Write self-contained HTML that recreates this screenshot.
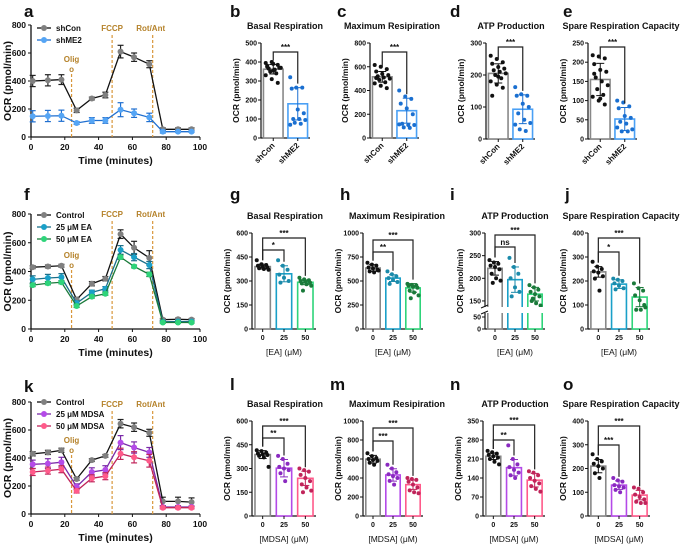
<!DOCTYPE html>
<html><head><meta charset="utf-8"><style>
body{margin:0;background:#fff;}
svg{display:block;font-family:"Liberation Sans",sans-serif;}
</style></head><body>
<svg id="fig" width="681" height="545" viewBox="0 0 681 545"></svg>
<script>
// ---------- line chart data ----------
const times=[1,10,18,27,36,44,53,61,70,78,87,95];
const aShCon=[400,405,410,190,275,300,610,570,520,55,55,55];
const aShConErr=[40,40,35,15,10,20,45,30,25,10,10,10];
const aShME2=[148,150,152,100,118,118,195,170,140,38,38,38];
const aShME2Err=[40,40,40,10,20,20,50,30,30,10,5,5];
const fCtrl=[430,435,440,205,315,350,660,565,495,65,68,65];
const fCtrlErr=[10,10,10,15,15,15,30,45,50,8,8,8];
const fEA25=[345,355,360,180,255,280,550,500,445,50,52,52];
const fEA25Err=[25,25,25,15,15,15,30,25,25,8,8,8];
const fEA50=[305,318,325,160,225,245,500,435,380,45,45,45];
const fEA50Err=[10,10,10,10,10,10,15,10,15,5,5,5];
const kCtrl=[430,440,455,250,385,415,645,620,580,90,90,85];
const kCtrlErr=[15,15,15,10,10,10,30,30,25,30,30,30];
const kMD25=[355,360,370,195,300,315,510,475,440,50,50,50];
const kMD25Err=[30,35,35,20,30,30,50,40,35,8,8,8];
const kMD50=[300,310,320,165,255,270,430,405,380,45,45,45];
const kMD50Err=[25,25,25,15,25,25,40,40,45,8,8,8];
const lineYTicks=[0,200,400,600,800];
const lineXTicks=[0,20,40,60,80,100];
const injTimes=[24,48,72];
const injLabels=["Olig","FCCP","Rot/Ant"];
// ---------- bar chart data ----------
const shLabels=["shCon","shME2"];
const doseLabels=["0","25","50"];
const bMeans=[362,180], bSD=[25,85];
const bPts=[[395,400,385,380,390,370,365,360,370,350,340,330,310,290,375,355],[320,265,265,260,150,130,100,100,95,80,75,70]];
const cMeans=[515,230], cSD=[45,105];
const cPts=[[615,600,580,560,540,530,520,510,500,490,470,460,440,420,505],[400,350,330,290,250,200,120,110,110,90,85,115]];
const dMeans=[205,93], dSD=[30,45];
const dPts=[[260,250,240,235,225,220,215,210,205,200,190,180,170,160,135,195],[162,140,135,135,110,100,80,60,50,30,25,45]];
const eMeans=[155,52], eSD=[42,30];
const ePts=[[218,215,210,195,180,175,160,150,140,130,115,110,100,90,170,105],[100,95,85,80,60,55,45,40,25,20,20,30]];
const gMeans=[390,345,292], gSD=[15,50,15];
const gPts=[[430,405,400,395,390,385,380,375,370],[430,395,370,340,320,300,290],[320,310,305,300,295,290,285,280,270,240]];
const hMeans=[635,530,428], hSD=[35,35,45];
const hPts=[[690,670,660,640,630,620,600,590,610],[600,570,550,530,510,490,470],[470,460,455,450,440,430,400,380,350,320]];
const iMeans=[222,197,165], iSD=[15,28,15];
const iPts=[[240,235,232,228,225,220,210,200,195,190],[245,225,210,200,180,170,160],[185,180,175,170,165,160,150,145,140,155]];
const jMeans=[238,187,133], jSD=[22,18,40];
const jPts=[[280,260,250,240,235,220,210,160],[210,205,200,190,180,170,165],[190,170,160,140,120,100,80,80,90]];
const lMeans=[388,302,238], lSD=[25,55,45];
const lPts=[[415,410,400,395,390,385,380,370,310],[380,360,330,310,300,290,270,220],[300,290,280,260,240,220,200,180,160,150]];
const mMeans=[598,432,330], mSD=[40,65,50];
const mPts=[[660,630,610,600,590,580,560,540],[540,500,460,440,420,400,370,330],[400,390,380,360,330,300,270,250,240]];
const nMeans=[220,178,132], nSD=[12,30,25];
const nPts=[[240,235,230,225,220,215,210,200,190],[260,210,190,180,170,160,150,140],[165,160,150,140,130,120,110,100,90]];
const oMeans=[210,130,88], oSD=[28,18,20];
const oPts=[[260,240,230,220,210,200,180,160],[160,150,145,130,125,120,110,100],[120,115,100,90,80,70,60,55,55]];

const NS="http://www.w3.org/2000/svg";
const svg=document.getElementById('fig');
function mk(parent,tag,attrs,name){
  const el=document.createElementNS(NS,tag);
  for(const k in attrs) el.setAttribute(k,attrs[k]);
  
  
  parent.appendChild(el);return el;
}
function txt(parent,x,y,s,size,opts,name){
  opts=opts||{};
  const t=mk(parent,'text',{x:x,y:y,'font-size':size,'font-weight':opts.w||'bold','text-anchor':opts.a||'middle',fill:opts.c||'#111'},name);
  if(opts.rot) t.setAttribute('transform','rotate('+opts.rot+' '+x+' '+y+')');
  t.textContent=s;return t;
}
function letter(x,y,s){txt(svg,x,y,s,17,{a:'start'},'panel-label-'+s);}

function lineChart(o){
  const g=mk(svg,'g',{},o.name);
  const X=t=>o.x0+t/100*(o.x1-o.x0);
  const Y=v=>o.yb-v/800*(o.yb-o.yt);
  mk(g,'line',{x1:o.x0,y1:o.yt,x2:o.x0,y2:o.yb,stroke:'#111','stroke-width':1.3},'y-axis');
  mk(g,'line',{x1:o.x0,y1:o.yb,x2:o.x1,y2:o.yb,stroke:'#111','stroke-width':1.3},'x-axis');
  lineYTicks.forEach(v=>{mk(g,'line',{x1:o.x0-3,y1:Y(v),x2:o.x0,y2:Y(v),stroke:'#111'},'y-tick');
    txt(g,o.x0-5,Y(v)+3,String(v),8.5,{a:'end'},'y-tick-label');});
  lineXTicks.forEach(v=>{mk(g,'line',{x1:X(v),y1:o.yb,x2:X(v),y2:o.yb+3,stroke:'#111'},'x-tick');
    txt(g,X(v),o.yb+13,String(v),8.5,{},'x-tick-label');});
  txt(g,X(50),o.yb+27,'Time (minutes)',10.5,{},'x-axis-title');
  txt(g,11,(o.yt+o.yb)/2,'OCR (pmol/min)',10.5,{rot:-90},'y-axis-title');
  injTimes.forEach((t,i)=>{
    const ly=i==0?o.oligY:o.fccpY;
    mk(g,'line',{x1:X(t),y1:ly+(i==0?12:4),x2:X(t),y2:o.yb,stroke:'#d8973a','stroke-width':1.2,'stroke-dasharray':'3,2'},'injection-line');
    const lx=i==2?X(t)-2:X(t);
    txt(g,lx,ly,injLabels[i],8,{c:'#b5822a'},'injection-label');
    if(i==0) txt(g,X(t),ly+10,'o',8,{c:'#b5822a'},'injection-label-wrap');
  });
  o.series.forEach((s,si)=>{
    const pts=s.v.map((v,i)=>X(times[i])+','+Y(v)).join(' ');
    s.v.forEach((v,i)=>{const x=X(times[i]);
      mk(g,'line',{x1:x,y1:Y(v-s.e[i]),x2:x,y2:Y(v+s.e[i]),stroke:s.ec,'stroke-width':1.2},'error-bar');
      mk(g,'line',{x1:x-3,y1:Y(v+s.e[i]),x2:x+3,y2:Y(v+s.e[i]),stroke:s.ec,'stroke-width':1.2},'error-cap');
      mk(g,'line',{x1:x-3,y1:Y(v-s.e[i]),x2:x+3,y2:Y(v-s.e[i]),stroke:s.ec,'stroke-width':1.2},'error-cap');});
    mk(g,'polyline',{points:pts,fill:'none',stroke:s.lc,'stroke-width':1.3},'series-line');
    s.v.forEach((v,i)=>mk(g,'circle',{cx:X(times[i]),cy:Y(v),r:3,fill:s.mc},'series-point'));
    const ly=o.legY+si*12;
    mk(g,'line',{x1:37,y1:ly,x2:51,y2:ly,stroke:s.lc,'stroke-width':1.3},'legend-line');
    mk(g,'circle',{cx:44,cy:ly,r:3,fill:s.mc},'legend-marker');
    txt(g,56,ly+3,s.label,8,{a:'start'},'legend-entry');
  });
}

function barChart(o){
  const g=mk(svg,'g',{},o.name);
  const n=o.means.length;
  const Y=o.scale||(v=>o.yb-v/o.ymax*(o.yb-o.yt));
  const axEnd=o.x0+o.w;
  mk(g,'line',{x1:o.x0,y1:o.yt,x2:o.x0,y2:o.yb,stroke:'#111','stroke-width':1.2},'y-axis');
  mk(g,'line',{x1:o.x0,y1:o.yb,x2:axEnd,y2:o.yb,stroke:'#111','stroke-width':1.2},'x-axis');
  o.ticks.forEach(v=>{mk(g,'line',{x1:o.x0-3,y1:Y(v),x2:o.x0,y2:Y(v),stroke:'#111'},'y-tick');
    txt(g,o.x0-4,Y(v)+2.5,String(v),7,{a:'end'},'y-tick-label');});
  txt(g,o.x0-22,(o.yt+o.yb)/2,'OCR (pmol/min)',8.5,{rot:-90},'y-axis-title');
  txt(g,o.tx,o.ty,o.title,9,{},'chart-title');
  const slot=o.w/n, bw=slot*(o.bwf||0.72);
  const cx=i=>o.x0+slot*(i+0.5);
  o.means.forEach((m,i)=>{
    const x=cx(i);
    mk(g,'rect',{x:x-bw/2,y:Y(m),width:bw,height:o.yb-Y(m),fill:'#fff',stroke:o.colors[i],'stroke-width':1.6},'bar-'+o.labels[i]);
    o.pts[i].forEach((p,k)=>{const dx=((k*37)%11-5)*bw/13;
      mk(g,'circle',{cx:x+dx,cy:Y(p),r:2,fill:o.dots[i]},'data-point');});
    const sd=o.sd[i];
    mk(g,'line',{x1:x,y1:Y(m-sd),x2:x,y2:Y(m+sd),stroke:o.dots[i],'stroke-width':1},'error-bar');
    mk(g,'line',{x1:x-4,y1:Y(m+sd),x2:x+4,y2:Y(m+sd),stroke:o.dots[i],'stroke-width':1},'error-cap');
    mk(g,'line',{x1:x-4,y1:Y(m-sd),x2:x+4,y2:Y(m-sd),stroke:o.dots[i],'stroke-width':1},'error-cap');
    mk(g,'line',{x1:x,y1:o.yb,x2:x,y2:o.yb+3,stroke:'#111'},'x-tick');
    if(o.rotLabels) txt(g,x+2,o.yb+8,o.labels[i],8,{a:'end',rot:-45},'x-tick-label');
    else txt(g,x,o.yb+11,o.labels[i],7,{},'x-tick-label');
  });
  if(o.xtitle) txt(g,o.x0+o.w/2,o.yb+26,o.xtitle,8.5,{w:'normal'},'x-axis-title');
  if(o.broken){
    mk(g,'rect',{x:o.x0-6,y:o.broken[0],width:o.w+6,height:o.broken[1]-o.broken[0],fill:'#fff'},'axis-break-gap');
    mk(g,'line',{x1:o.x0-4,y1:o.broken[0]+1,x2:o.x0+3,y2:o.broken[0]-2,stroke:'#111'},'axis-break-mark');
    mk(g,'line',{x1:o.x0-4,y1:o.broken[1]+1,x2:o.x0+3,y2:o.broken[1]-2,stroke:'#111'},'axis-break-mark');
  }
  o.sig.forEach(s=>{
    const x1=cx(0),x2=cx(s.to);
    const top1=Y(o.means[0]+o.sd[0])-4, top2=Y(o.means[s.to]+o.sd[s.to])-4;
    mk(g,'polyline',{points:x1+','+top1+' '+x1+','+s.y+' '+x2+','+s.y+' '+x2+','+top2,fill:'none',stroke:'#222','stroke-width':1.2},'significance-bracket');
    txt(g,(x1+x2)/2,s.y-2,s.label,8,{},'significance-label');
  });
}

// ---------- top row ----------
letter(24,17,'a');
lineChart({name:'chart-a',x0:31,x1:200,yt:25,yb:137,legY:28,fccpY:31,oligY:62,series:[
 {v:aShCon,e:aShConErr,lc:'#111',mc:'#808080',ec:'#222',label:'shCon'},
 {v:aShME2,e:aShME2Err,lc:'#1f6fd0',mc:'#55a5f5',ec:'#1f6fd0',label:'shME2'}]});
const shC=['#888','#4aa0f5'], shD=['#111','#1a6fd0'];
letter(230,17,'b');letter(337,17,'c');letter(450,17,'d');letter(563,17,'e');
barChart({name:'chart-b',x0:261,w:49,bwf:0.8,yt:43,yb:138,ymax:500,ticks:[0,100,200,300,400,500],means:bMeans,sd:bSD,pts:bPts,labels:shLabels,colors:shC,dots:shD,rotLabels:true,title:'Basal Respiration',tx:285,ty:29,sig:[{to:1,y:52,label:'***'}]});
barChart({name:'chart-c',x0:370,w:49,bwf:0.8,yt:43,yb:138,ymax:800,ticks:[0,200,400,600,800],means:cMeans,sd:cSD,pts:cPts,labels:shLabels,colors:shC,dots:shD,rotLabels:true,title:'Maximum Resipiration',tx:392,ty:29,sig:[{to:1,y:52,label:'***'}]});
barChart({name:'chart-d',x0:486,w:49,bwf:0.8,yt:43,yb:139,ymax:300,ticks:[0,100,200,300],means:dMeans,sd:dSD,pts:dPts,labels:shLabels,colors:shC,dots:shD,rotLabels:true,title:'ATP Production',tx:511,ty:29,sig:[{to:1,y:47,label:'***'}]});
barChart({name:'chart-e',x0:588,w:49,bwf:0.8,yt:43,yb:139,ymax:250,ticks:[0,50,100,150,200,250],means:eMeans,sd:eSD,pts:ePts,labels:shLabels,colors:shC,dots:shD,rotLabels:true,title:'Spare Respiration Capacity',tx:621,ty:29,sig:[{to:1,y:47,label:'***'}]});

// ---------- middle row ----------
letter(24,200,'f');
lineChart({name:'chart-f',x0:31,x1:200,yt:214,yb:329,legY:215,fccpY:217,oligY:258,series:[
 {v:fCtrl,e:fCtrlErr,lc:'#111',mc:'#808080',ec:'#222',label:'Control'},
 {v:fEA25,e:fEA25Err,lc:'#1a6f8a',mc:'#1aa0c8',ec:'#1a6f8a',label:'25 \u03bcM EA'},
 {v:fEA50,e:fEA50Err,lc:'#1a7a3a',mc:'#2ed47a',ec:'#1a7a3a',label:'50 \u03bcM EA'}]});
const eaC=['#888','#1aa0c8','#2ed47a'], eaD=['#111','#1a8aaa','#1a7a3a'];
letter(230,200,'g');letter(340,200,'h');letter(450,200,'i');letter(565,200,'j');
barChart({name:'chart-g',x0:252,w:64,yt:233,yb:329,ymax:600,ticks:[0,150,300,450,600],means:gMeans,sd:gSD,pts:gPts,labels:doseLabels,colors:eaC,dots:eaD,title:'Basal Respiration',tx:285,ty:219,xtitle:'[EA] (\u03bcM)',sig:[{to:2,y:238,label:'***'},{to:1,y:250,label:'*'}]});
barChart({name:'chart-h',x0:363,w:60,yt:233,yb:329,ymax:1000,ticks:[0,250,500,750,1000],means:hMeans,sd:hSD,pts:hPts,labels:doseLabels,colors:eaC,dots:eaD,title:'Maximum Resipiration',tx:397,ty:219,xtitle:'[EA] (\u03bcM)',sig:[{to:2,y:240,label:'***'},{to:1,y:252,label:'**'}]});
barChart({name:'chart-i',x0:485,w:60,yt:233,yb:329,scale:v=>v>=100?233+(300-v)*0.453:329-v*0.24,broken:[307,313],ticks:[0,50,150,200,250,300],means:iMeans,sd:iSD,pts:iPts,labels:doseLabels,colors:eaC,dots:eaD,title:'ATP Production',tx:515,ty:219,xtitle:'[EA] (\u03bcM)',sig:[{to:2,y:235,label:'***'},{to:1,y:247,label:'ns'}]});
barChart({name:'chart-j',x0:588,w:62,yt:233,yb:329,ymax:400,ticks:[0,100,200,300,400],means:jMeans,sd:jSD,pts:jPts,labels:doseLabels,colors:eaC,dots:eaD,title:'Spare Respiration Capacity',tx:621,ty:219,xtitle:'[EA] (\u03bcM)',sig:[{to:2,y:238,label:'***'},{to:1,y:252,label:'*'}]});

// ---------- bottom row ----------
letter(24,392,'k');
lineChart({name:'chart-k',x0:31,x1:200,yt:402,yb:514,legY:402,fccpY:407,oligY:443,series:[
 {v:kCtrl,e:kCtrlErr,lc:'#111',mc:'#808080',ec:'#222',label:'Control'},
 {v:kMD25,e:kMD25Err,lc:'#7a2aa8',mc:'#b44ae8',ec:'#7a2aa8',label:'25 \u03bcM MDSA'},
 {v:kMD50,e:kMD50Err,lc:'#c0245a',mc:'#ff5a8a',ec:'#c0245a',label:'50 \u03bcM MDSA'}]});
const mdC=['#888','#b44ae8','#ff5a8a'], mdD=['#111','#8a2ac0','#c0245a'];
letter(230,390,'l');letter(330,390,'m');letter(450,390,'n');letter(563,390,'o');
barChart({name:'chart-l',x0:252,w:64,yt:421,yb:516,ymax:600,ticks:[0,150,300,450,600],means:lMeans,sd:lSD,pts:lPts,labels:doseLabels,colors:mdC,dots:mdD,title:'Basal Respiration',tx:285,ty:407,xtitle:'[MDSA] (\u03bcM)',sig:[{to:2,y:426,label:'***'},{to:1,y:438,label:'**'}]});
barChart({name:'chart-m',x0:363,w:60,yt:421,yb:516,ymax:1000,ticks:[0,200,400,600,800,1000],means:mMeans,sd:mSD,pts:mPts,labels:doseLabels,colors:mdC,dots:mdD,title:'Maximum Resipiration',tx:397,ty:407,xtitle:'[MDSA] (\u03bcM)',sig:[{to:2,y:428,label:'***'},{to:1,y:441,label:'***'}]});
barChart({name:'chart-n',x0:483,w:62,yt:421,yb:516,ymax:350,ticks:[0,70,140,210,280,350],means:nMeans,sd:nSD,pts:nPts,labels:doseLabels,colors:mdC,dots:mdD,title:'ATP Production',tx:515,ty:407,xtitle:'[MDSA] (\u03bcM)',sig:[{to:2,y:425,label:'***'},{to:1,y:440,label:'**'}]});
barChart({name:'chart-o',x0:588,w:62,yt:421,yb:516,ymax:400,ticks:[0,100,200,300,400],means:oMeans,sd:oSD,pts:oPts,labels:doseLabels,colors:mdC,dots:mdD,title:'Spare Respiration Capacity',tx:621,ty:407,xtitle:'[MDSA] (\u03bcM)',sig:[{to:2,y:426,label:'***'},{to:1,y:445,label:'***'}]});
</script>
</body></html>
